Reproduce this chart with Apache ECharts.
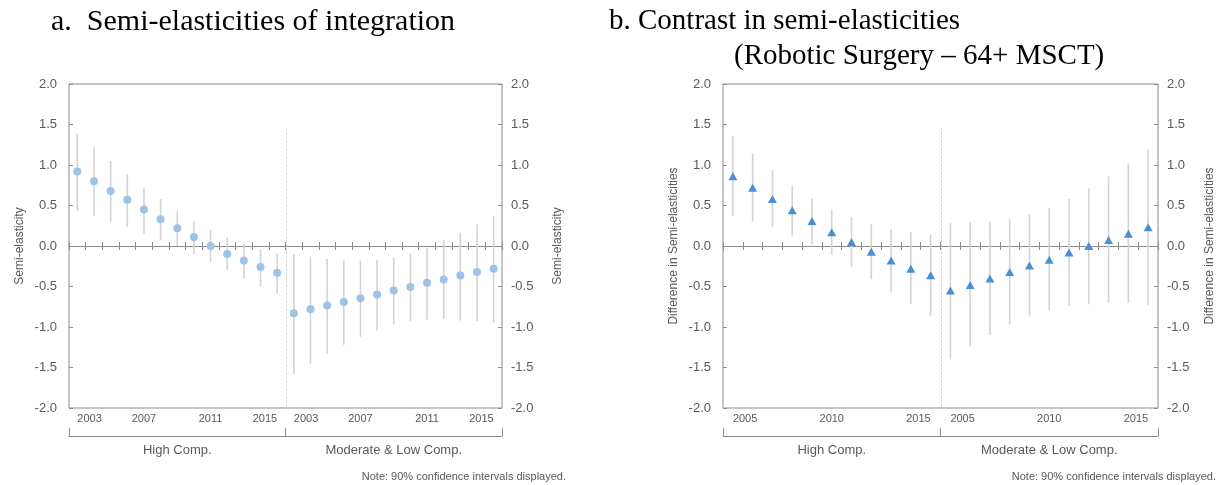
<!DOCTYPE html>
<html>
<head>
<meta charset="utf-8">
<script src="https://cdn.jsdelivr.net/npm/echarts@6.0.0/dist/echarts.min.js"></script>
<style>
  html, body { margin: 0; padding: 0; background: #fff; }
  #chart { width: 1222px; height: 485px; }
</style>
</head>
<body>
<div id="chart"></div>
<script>
// panel a: semi-elasticities of integration (2003-2015 in each group)
const yearsA = ['2003','2004','2005','2006','2007','2008','2009','2010','2011','2012','2013','2014','2015'];
const highEstA = [0.92, 0.80, 0.68, 0.57, 0.45, 0.33, 0.22, 0.11, 0.00, -0.10, -0.18, -0.26, -0.33];
const highLoA  = [0.43, 0.37, 0.30, 0.23, 0.15, 0.07, 0.00, -0.10, -0.20, -0.30, -0.40, -0.50, -0.59];
const highHiA  = [1.39, 1.22, 1.05, 0.885, 0.72, 0.58, 0.43, 0.31, 0.20, 0.11, 0.025, -0.045, -0.09];
const modEstA  = [-0.83, -0.78, -0.735, -0.69, -0.645, -0.60, -0.55, -0.505, -0.455, -0.415, -0.365, -0.32, -0.28];
const modLoA   = [-1.58, -1.45, -1.33, -1.22, -1.12, -1.04, -0.97, -0.93, -0.91, -0.90, -0.92, -0.925, -0.95];
const modHiA   = [-0.10, -0.13, -0.16, -0.18, -0.18, -0.17, -0.145, -0.095, -0.017, 0.07, 0.165, 0.27, 0.37];

// panel b: contrast (Robotic Surgery - 64+ MSCT), 2005-2015 in each group
const yearsB = ['2005','2006','2007','2008','2009','2010','2011','2012','2013','2014','2015'];
const highEstB = [0.86, 0.72, 0.58, 0.44, 0.31, 0.17, 0.05, -0.07, -0.18, -0.28, -0.36];
const highLoB  = [0.37, 0.30, 0.23, 0.13, 0.02, -0.11, -0.26, -0.41, -0.57, -0.72, -0.86];
const highHiB  = [1.36, 1.14, 0.94, 0.75, 0.59, 0.45, 0.36, 0.27, 0.21, 0.17, 0.14];
const modEstB  = [-0.55, -0.48, -0.40, -0.32, -0.24, -0.17, -0.08, 0.00, 0.075, 0.15, 0.23];
const modLoB   = [-1.40, -1.24, -1.10, -0.97, -0.87, -0.79, -0.74, -0.72, -0.70, -0.70, -0.73];
const modHiB   = [0.29, 0.29, 0.30, 0.33, 0.39, 0.47, 0.58, 0.71, 0.86, 1.02, 1.19];

const groups = ['High Comp.', 'Moderate & Low Comp.'];
const yTicks = { min: -2, max: 2, step: 0.5 };

const sans = 'Liberation Sans, Arial, sans-serif';
const serif = 'Liberation Serif, Times New Roman, serif';
const grey = '#595959';
const frame = '#8c8c8c';

let option = {
  backgroundColor: '#fff',
  animation: false,
  title: [],
  grid: [],
  xAxis: [],
  yAxis: [],
  series: []
};

// one panel = one grid, 4 x axes (labels, ticks down, ticks up, group bracket), 2 y axes
function addPanel(p) {
  let gi = option.grid.length;
  let xi = option.xAxis.length;
  let yi = option.yAxis.length;
  let n = p.years.length;
  let cats = p.years.map(y => 'H' + y).concat(p.years.map(y => 'M' + y));

  // labels at the group edges lean inward, like the original
  let labelCats = cats.map(function (c, i) {
    let k = i % n;
    if (k === 0) return { value: c, textStyle: { align: 'left' } };
    if (k === n - 1) return { value: c, textStyle: { align: 'right' } };
    return c;
  });

  option.grid.push({
    left: p.left, width: p.width, top: 84, height: 324,
    show: true, borderColor: frame, borderWidth: 1
  });

  option.xAxis.push({
    type: 'category', gridIndex: gi, data: labelCats, position: 'bottom',
    axisLine: { show: false, onZero: false }, axisTick: { show: false },
    axisLabel: {
      interval: (i) => (i % n) % p.every === 0,
      formatter: (v) => v.slice(1),
      fontFamily: sans, fontSize: 11, color: grey, margin: 5
    }
  });
  // zero line, ticks pointing down
  option.xAxis.push({
    type: 'category', gridIndex: gi, data: cats, position: 'bottom',
    axisLine: { show: true, onZero: true, lineStyle: { color: frame } },
    axisTick: { show: true, interval: 0, length: 4, lineStyle: { color: frame } },
    axisLabel: { show: false }
  });
  // zero line, ticks pointing up
  option.xAxis.push({
    type: 'category', gridIndex: gi, data: cats, position: 'top',
    axisLine: { show: true, onZero: true, lineStyle: { color: frame } },
    axisTick: { show: true, interval: 0, length: 4, lineStyle: { color: frame } },
    axisLabel: { show: false }
  });
  // group bracket
  option.xAxis.push({
    type: 'category', gridIndex: gi, data: groups, position: 'bottom', offset: 28,
    axisLine: { show: true, onZero: false, lineStyle: { color: frame } },
    axisTick: { show: true, interval: 0, inside: true, length: 8, lineStyle: { color: frame } },
    axisLabel: { fontFamily: sans, fontSize: 13, color: grey, margin: 8 }
  });

  ['left', 'right'].forEach(function (pos) {
    option.yAxis.push({
      type: 'value', gridIndex: gi, position: pos,
      min: yTicks.min, max: yTicks.max, interval: yTicks.step,
      name: p.yName, nameLocation: 'middle', nameRotate: 90,
      nameGap: pos === 'left' ? 43 : p.rightGap,
      nameTextStyle: { fontFamily: sans, fontSize: 12, color: grey },
      axisLine: { show: false },
      axisTick: { show: true, inside: true, length: 4, lineStyle: { color: frame } },
      splitLine: { show: false },
      axisLabel: {
        formatter: (v) => v.toFixed(1),
        fontFamily: sans, fontSize: 13, color: grey, margin: pos === 'left' ? 12 : 9
      }
    });
  });

  let est = p.highEst.concat(p.modEst);
  let lo = p.highLo.concat(p.modLo);
  let hi = p.highHi.concat(p.modHi);

  // confidence intervals
  option.series.push({
    type: 'custom', xAxisIndex: xi, yAxisIndex: yi, z: 2,
    data: est.map((v, i) => [i, lo[i], hi[i]]),
    encode: { x: 0, y: [1, 2] },
    renderItem: function (params, api) {
      let a = api.coord([api.value(0), api.value(2)]);
      let b = api.coord([api.value(0), api.value(1)]);
      return {
        type: 'line',
        shape: { x1: a[0], y1: a[1], x2: b[0], y2: b[1] },
        style: { stroke: '#d3d3d3', lineWidth: 1.6 }
      };
    }
  });

  // dotted divider between the two groups
  option.series.push({
    type: 'custom', xAxisIndex: xi, yAxisIndex: yi, z: 1,
    data: [[n - 1, 1.45]],
    renderItem: function (params, api) {
      let a = api.coord([api.value(0), api.value(1)]);
      let b = api.coord([api.value(0) + 1, yTicks.min]);
      let x = Math.round((a[0] + b[0]) / 2) + 0.5;
      return {
        type: 'line',
        shape: { x1: x, y1: a[1], x2: x, y2: b[1] },
        style: { stroke: '#c8c8c8', lineWidth: 1, lineDash: [2, 2] }
      };
    }
  });

  option.series.push({
    type: 'scatter', xAxisIndex: xi, yAxisIndex: yi, z: 3,
    data: est.map((v, i) => [i, v]),
    symbol: p.symbol, symbolSize: p.symbolSize,
    itemStyle: { color: p.color, opacity: 1 }
  });

  option.title.push({
    text: 'Note: 90% confidence intervals displayed.',
    right: p.noteRight, top: 466,
    textStyle: { fontFamily: sans, fontSize: 11, fontWeight: 'normal', color: grey }
  });
}

addPanel({
  years: yearsA, highEst: highEstA, highLo: highLoA, highHi: highHiA,
  modEst: modEstA, modLo: modLoA, modHi: modHiA,
  left: 69, width: 433, every: 4, yName: 'Semi-elasticity', rightGap: 50,
  symbol: 'circle', symbolSize: 8, color: '#9dc3e6', noteRight: 651
});

addPanel({
  years: yearsB, highEst: highEstB, highLo: highLoB, highHi: highHiB,
  modEst: modEstB, modLo: modLoB, modHi: modHiB,
  left: 723, width: 435, every: 5, yName: 'Difference in Semi-elasticities', rightGap: 46,
  symbol: 'triangle', symbolSize: [9, 8], color: '#4a8fd6', noteRight: 1
});

const titleStyle = { fontFamily: serif, fontSize: 29, fontWeight: 'normal', color: '#000' };
option.title.push(
  { text: 'a.  Semi-elasticities of integration', left: 46, top: 2,
    textStyle: Object.assign({}, titleStyle, { fontSize: 30 }) },
  { text: 'b. Contrast in semi-elasticities', left: 604, top: 2, textStyle: titleStyle },
  { text: '(Robotic Surgery \u2013 64+ MSCT)', left: 729, top: 37, textStyle: titleStyle }
);

let chart = echarts.init(document.getElementById('chart'), null, { renderer: 'canvas' });
chart.setOption(option);
</script>
</body>
</html>
